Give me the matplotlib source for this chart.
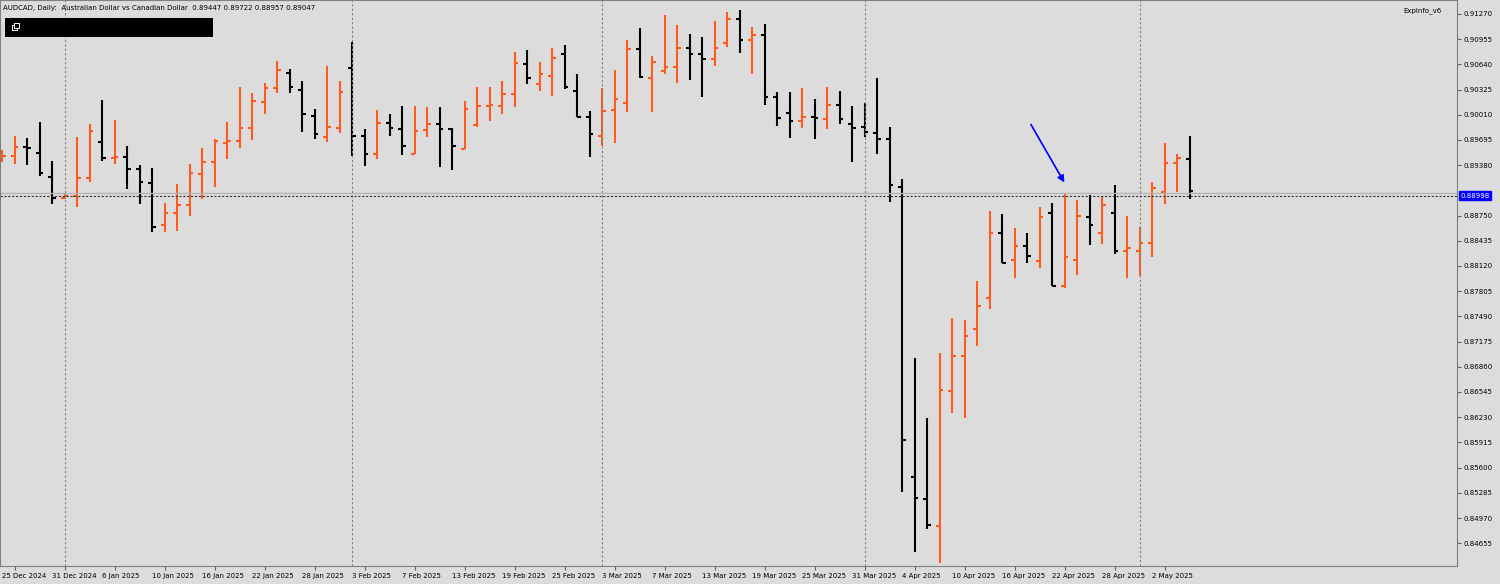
import numpy as np
import pandas as pd
import matplotlib.pyplot as plt
import matplotlib.patches as patches
import matplotlib.transforms as mtransforms

# daily AUDCAD bars
opens = [0.89495, 0.89495, 0.89608, 0.89533, 0.89233, 0.88970, 0.88995, 0.89220, 0.89670, 0.89470,
         0.89483, 0.89333, 0.89158, 0.88633, 0.88783, 0.88883, 0.89270, 0.89420, 0.89658, 0.89683,
         0.89845, 0.90170, 0.90345, 0.90533, 0.90320, 0.89995, 0.89733, 0.89845, 0.90595, 0.89745,
         0.89520, 0.89908, 0.89833, 0.89520, 0.89820, 0.89895, 0.89833, 0.89583, 0.89883, 0.90120,
         0.90120, 0.90270, 0.90645, 0.90395, 0.90495, 0.90770, 0.90308, 0.89983, 0.89745, 0.90070,
         0.90158, 0.90833, 0.90470, 0.90558, 0.90608, 0.90845, 0.90770, 0.90708, 0.90908, 0.91208,
         0.90945, 0.91008, 0.90233, 0.90033, 0.89933, 0.89983, 0.89958, 0.90133, 0.89895, 0.89858,
         0.89783, 0.89708, 0.89108, 0.85483, 0.85208, 0.84870, 0.86558, 0.86995, 0.87333, 0.87720,
         0.88533, 0.88195, 0.88370, 0.88183, 0.88783, 0.87870, 0.88195, 0.88733, 0.88533, 0.88783,
         0.88308, 0.88308, 0.88408, 0.89045, 0.89408, 0.89458]
highs = [0.89570, 0.89745, 0.89720, 0.89920, 0.89433, 0.89020, 0.89733, 0.89895, 0.90195, 0.89945,
         0.89620, 0.89383, 0.89345, 0.88908, 0.89145, 0.89395, 0.89595, 0.89708, 0.89920, 0.90358,
         0.90283, 0.90408, 0.90683, 0.90583, 0.90433, 0.90083, 0.90620, 0.90433, 0.90920, 0.89833,
         0.90070, 0.90020, 0.90120, 0.90120, 0.90108, 0.90108, 0.89845, 0.90183, 0.90358, 0.90358,
         0.90433, 0.90795, 0.90820, 0.90670, 0.90845, 0.90883, 0.90520, 0.90058, 0.90345, 0.90570,
         0.90945, 0.91095, 0.90745, 0.91258, 0.91133, 0.91020, 0.90983, 0.91183, 0.91295, 0.91320,
         0.91108, 0.91145, 0.90295, 0.90295, 0.90345, 0.90208, 0.90358, 0.90308, 0.90120, 0.90158,
         0.90470, 0.89858, 0.89208, 0.86970, 0.86220, 0.87033, 0.87470, 0.87445, 0.87933, 0.88808,
         0.88770, 0.88595, 0.88533, 0.88858, 0.88908, 0.89020, 0.88945, 0.89008, 0.88983, 0.89133,
         0.88745, 0.88608, 0.89170, 0.89658, 0.89520, 0.89745]
lows = [0.89420, 0.89395, 0.89383, 0.89245, 0.88895, 0.88958, 0.88858, 0.89170, 0.89433, 0.89395,
        0.89083, 0.88895, 0.88545, 0.88545, 0.88558, 0.88745, 0.88958, 0.89108, 0.89458, 0.89595,
        0.89695, 0.90020, 0.90283, 0.90283, 0.89795, 0.89708, 0.89670, 0.89783, 0.89495, 0.89370,
        0.89458, 0.89745, 0.89508, 0.89520, 0.89733, 0.89358, 0.89320, 0.89583, 0.89858, 0.89933,
        0.90020, 0.90108, 0.90395, 0.90308, 0.90245, 0.90333, 0.89983, 0.89483, 0.89620, 0.89658,
        0.90045, 0.90470, 0.90045, 0.90520, 0.90408, 0.90445, 0.90233, 0.90620, 0.90858, 0.90783,
        0.90520, 0.90133, 0.89870, 0.89720, 0.89845, 0.89708, 0.89833, 0.89895, 0.89420, 0.89733,
        0.89520, 0.88920, 0.85295, 0.84545, 0.84833, 0.84408, 0.86283, 0.86220, 0.87120, 0.87583,
        0.88158, 0.87970, 0.88158, 0.88095, 0.87870, 0.87845, 0.88008, 0.88383, 0.88395, 0.88270,
        0.87970, 0.87995, 0.88233, 0.88895, 0.89045, 0.88958]
closes = [0.89495, 0.89608, 0.89595, 0.89283, 0.88970, 0.88995, 0.89220, 0.89808, 0.89470, 0.89483,
          0.89333, 0.89170, 0.88608, 0.88783, 0.88883, 0.89283, 0.89420, 0.89683, 0.89683, 0.89845,
          0.90183, 0.90345, 0.90570, 0.90358, 0.90020, 0.89770, 0.89858, 0.90295, 0.89745, 0.89520,
          0.89908, 0.89845, 0.89620, 0.89808, 0.89895, 0.89833, 0.89620, 0.90083, 0.90120, 0.90133,
          0.90270, 0.90658, 0.90470, 0.90520, 0.90720, 0.90358, 0.89983, 0.89770, 0.90058, 0.90208,
          0.90833, 0.90483, 0.90670, 0.90608, 0.90845, 0.90770, 0.90708, 0.90845, 0.91208, 0.90945,
          0.91008, 0.90233, 0.89970, 0.89933, 0.89983, 0.89970, 0.90133, 0.89958, 0.89845, 0.89795,
          0.89708, 0.89133, 0.85945, 0.85220, 0.84883, 0.86570, 0.86995, 0.87245, 0.87620, 0.88533,
          0.88158, 0.88370, 0.88245, 0.88733, 0.87870, 0.88233, 0.88745, 0.88633, 0.88883, 0.88308,
          0.88345, 0.88408, 0.89095, 0.89408, 0.89470, 0.89058]

dates = pd.bdate_range("2024-12-24", periods=len(opens))
labels = [f"{d.day} {d.strftime('%b %Y')}" for d in dates]
price_now = 0.88998
ticks = [0.91270 - 0.00315 * k for k in range(22)]
ticks = [t for t in ticks if abs(t - price_now) > 0.001]  # hidden behind price tag

bull = "#FF5A1F"
bear = "#000000"
bg = "#DCDCDC"

fig = plt.figure(figsize=(15, 5.84), dpi=100, facecolor=bg)
ax = fig.add_axes([0, 18 / 584, 1457 / 1500, 566 / 584])
ax.set_facecolor(bg)
x = np.arange(len(opens))
w = 0.3
for i in x:
    c = bull if closes[i] >= opens[i] else bear
    ax.vlines(i, lows[i], highs[i], color=c, lw=1.5)
    ax.hlines(opens[i], i - w, i, color=c, lw=1.5)
    ax.hlines(closes[i], i, i + w, color=c, lw=1.5)

# month separators
for i in range(len(dates) - 1):
    if dates[i].month != dates[i + 1].month:
        ax.axvline(i, color="#808080", ls=(0, (2, 2)), lw=0.8)

ax.axhline(price_now + 0.0003, color="#B4B4B4", lw=1)
ax.axhline(price_now, color="#333333", ls=(0, (2, 1.5)), lw=0.8)
ax.annotate("", xy=(85.1, 0.89133), xytext=(82.2, 0.89920),
            arrowprops=dict(arrowstyle="-|>", color="#0000FF", lw=1.2, mutation_scale=10))

ax.set_xlim(-0.16, 116.4)
ax.set_ylim(0.84370, 0.91445)
ax.yaxis.tick_right()
ax.set_yticks(ticks)
ax.set_yticklabels([f"{t:.5f}" for t in ticks], fontsize=5)
ax.tick_params(axis="y", length=3, pad=2, color="#606060")
lbl_idx = list(range(1, len(opens), 4))
ax.set_xticks(lbl_idx)
ax.set_xticklabels([labels[i] for i in lbl_idx], fontsize=5, ha="left")
ax.tick_params(axis="x", length=3, pad=2, color="#606060")
shift = mtransforms.ScaledTranslation(-12 / 100, 0, fig.dpi_scale_trans)
for t in ax.get_xticklabels():
    t.set_transform(t.get_transform() + shift)
for sp in ax.spines.values():
    sp.set_color("#808080")
    sp.set_linewidth(0.8)

ax.text(1.0025, price_now, f"{price_now:.5f}", transform=ax.get_yaxis_transform(),
        fontsize=5, color="white", va="center", ha="left",
        bbox=dict(boxstyle="square,pad=0.2", fc="#0000FF", ec="#0000FF"))

fig.text(3 / 1500, 1 - 8 / 584, "AUDCAD, Daily:  Australian Dollar vs Canadian Dollar  0.89447 0.89722 0.88957 0.89047",
         fontsize=5, va="center")
fig.text(1403 / 1500, 1 - 11 / 584, "ExpInfo_v6", fontsize=5, va="center")
fig.patches.append(patches.Rectangle((5 / 1500, 1 - 37 / 584), 208 / 1500, 19 / 584,
                                     transform=fig.transFigure, fc="black", ec="none"))
# small window icon inside the black box
for dx, dy in [(12, 30), (14, 28)]:
    fig.patches.append(patches.Rectangle((dx / 1500, 1 - dy / 584), 5 / 1500, 5 / 584,
                                         transform=fig.transFigure, fc="black", ec="white", lw=0.7))

fig.savefig("out.png", dpi=100, facecolor=bg)
